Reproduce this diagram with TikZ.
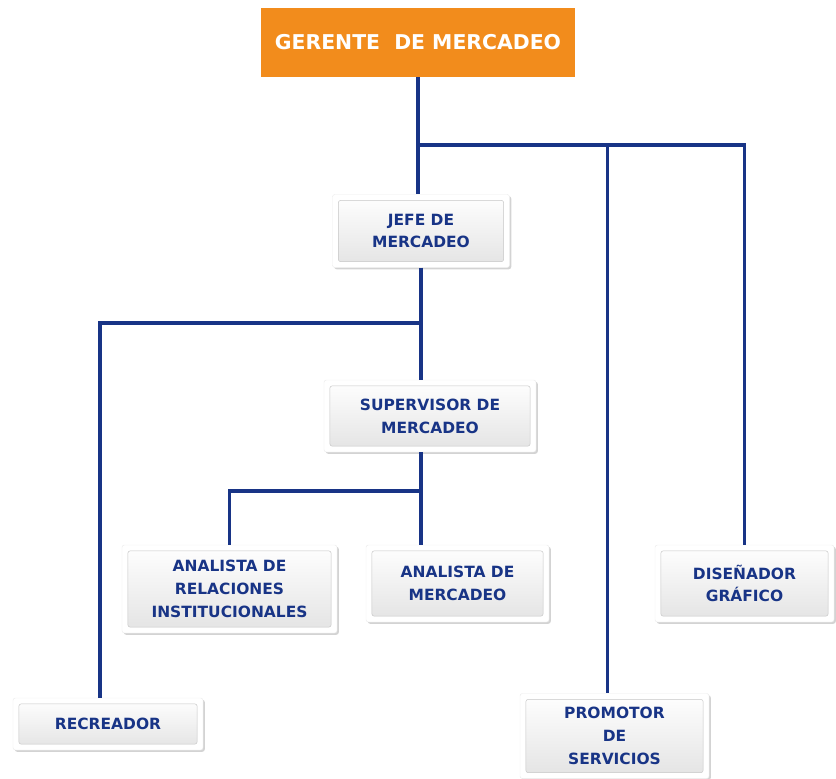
\documentclass[tikz,border=0pt]{standalone}
\usepackage{fontspec}
\setmainfont{DejaVu Sans}
\usetikzlibrary{
  calc, % For coordinate calculations
  shadows % For the drop shadow of the boxes
}

\definecolor{naranja}{RGB}{242,140,28}
\definecolor{azul}{RGB}{24,52,134}

\begin{document}
\begin{tikzpicture}[
      x=0.03cm, y=-0.03cm, % one unit = one pixel of the sketch
      conn/.style={azul, line width=3.4pt}, % Style for the connectors
      jefebox/.style={fill=naranja, text=white, font=\fontsize{17.4}{21}\selectfont\bfseries,
        minimum width=9.39cm, minimum height=2.07cm, inner sep=0pt}, % Style for the top box
      cargo/.style={fill=white, draw=gray!15, rounded corners=2pt,
        drop shadow={shadow xshift=1.5pt, shadow yshift=-1.5pt, opacity=0.35},
        text=azul, align=center, inner sep=0pt,
        font=\fontsize{13.2}{19.5}\selectfont\bfseries,
        path picture={
          \shade[top color=white, bottom color=gray!22, draw=gray!45]
            ($(path picture bounding box.south west)+(5pt,5pt)$) rectangle
            ($(path picture bounding box.north east)-(5pt,5pt)$);
        }}, % Style for the boxes below
    ]

    \useasboundingbox (0,0) rectangle (836,778);

    % Gerente
    \node[jefebox] (gerente) at (418,42.5) {GERENTE\ \ DE MERCADEO};

    % Cargos
    \node[cargo, minimum width=5.31cm, minimum height=2.19cm] (jefe) at (421,231) {JEFE DE\\MERCADEO};
    \node[cargo, minimum width=6.36cm, minimum height=2.16cm] (supervisor) at (430,416) {SUPERVISOR DE\\MERCADEO};
    \node[cargo, minimum width=6.45cm, minimum height=2.64cm] (analistaRI) at (229.5,589) {ANALISTA DE\\RELACIONES\\INSTITUCIONALES};
    \node[cargo, minimum width=5.49cm, minimum height=2.31cm] (analistaM) at (457.5,583.5) {ANALISTA DE\\MERCADEO};
    \node[cargo, minimum width=5.37cm, minimum height=2.31cm] (disenador) at (744.5,583.5) {DISEÑADOR\\GRÁFICO};
    \node[cargo, minimum width=5.70cm, minimum height=1.56cm] (recreador) at (108,724) {RECREADOR};
    \node[cargo, minimum width=5.67cm, minimum height=2.55cm] (promotor) at (614.5,736) {PROMOTOR\\DE\\SERVICIOS};

    % Ramas del gerente
    \coordinate (ramaA) at (gerente.south |- 0,145);
    \draw[conn] (gerente.south) -- (gerente.south |- jefe.north);
    \draw[conn] (ramaA) -| (disenador.north);
    \draw[conn] ($(ramaA -| promotor.north)+(-7,0)$) -- ($(promotor.north)+(-7,0)$);

    % Ramas del jefe
    \coordinate (ramaB) at (jefe.south |- 0,323);
    \draw[conn] (jefe.south) -- (jefe.south |- supervisor.north);
    \draw[conn] (ramaB) -| ($(recreador.north)+(-8,0)$);

    % Ramas del supervisor
    \coordinate (ramaC) at (jefe.south |- 0,491);
    \draw[conn] (jefe.south |- supervisor.south) -- (jefe.south |- analistaM.north);
    \draw[conn] (ramaC) -| (analistaRI.north);

  \end{tikzpicture}
\end{document}
